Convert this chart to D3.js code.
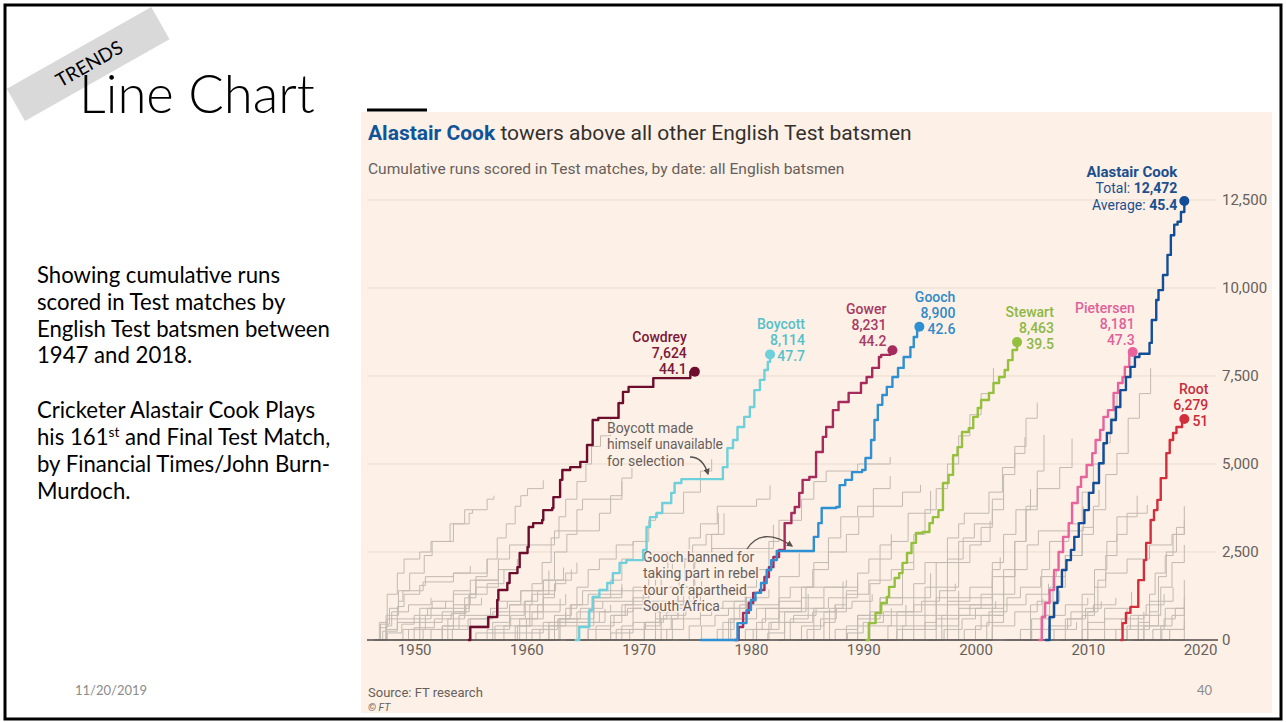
<!DOCTYPE html>
<html>
<head>
<meta charset="utf-8">
<script src="https://cdn.jsdelivr.net/npm/d3@7"></script>
<style>
  body { margin: 0; background: #fff; }
  svg { display: block; }
</style>
</head>
<body>
<svg id="slide" width="1286" height="722"></svg>
<script>
// ---- DATA ----
var xTicks = [1950, 1960, 1970, 1980, 1990, 2000, 2010, 2020];
var yTicks = [0, 2500, 5000, 7500, 10000, 12500];

var starNames = ["Cowdrey", "Boycott", "Gower", "Gooch", "Stewart", "Pietersen", "Root", "Alastair Cook"];
var starTotals = [7624, 8114, 8231, 8900, 8463, 8181, 6279, 12472];
var starAverages = ["44.1", "47.7", "44.2", "42.6", "39.5", "47.3", "51", "45.4"];

// [year, cumulative runs]
var cowdreyRuns = [[1954.8,0],[1955.0,370],[1956.6,650],[1957.4,1140],[1957.5,1420],[1958.3,1620],[1958.5,1900],[1959.2,2070],[1959.4,2470],[1960.1,2640],[1960.2,3210],[1960.6,3320],[1961.4,3410],[1961.5,3690],[1962.3,3750],[1962.4,4060],[1963.0,4550],[1963.2,4830],[1963.9,4910],[1964.8,5060],[1965.4,5540],[1965.9,6250],[1966.4,6310],[1968.2,6730],[1968.6,7050],[1969.1,7190],[1971.3,7440],[1974.6,7624],[1975.0,7624]];
var boycottRuns = [[1964.3,0],[1964.7,370],[1965.6,850],[1965.9,1220],[1966.5,1420],[1967.2,1620],[1967.7,1900],[1968.3,2190],[1968.9,2270],[1970.4,2560],[1970.7,3210],[1971.0,3490],[1971.6,3610],[1972.1,3890],[1972.9,4180],[1973.2,4460],[1973.8,4570],[1977.5,4910],[1977.9,5450],[1978.4,5680],[1978.8,6050],[1979.4,6340],[1979.9,6620],[1980.3,7100],[1980.8,7390],[1981.2,7670],[1981.5,7900],[1981.7,8114]];
var gowerRuns = [[1978.5,0],[1978.9,370],[1979.3,770],[1979.8,1050],[1980.2,1340],[1980.8,1420],[1981.2,1790],[1981.6,2070],[1982.0,2360],[1982.5,2560],[1983.0,3320],[1983.6,3610],[1983.9,3780],[1984.3,4180],[1984.6,4550],[1985.2,4630],[1985.8,5340],[1986.4,5770],[1986.7,6050],[1987.3,6530],[1987.8,6760],[1988.7,7020],[1989.8,7300],[1990.3,7470],[1990.8,7730],[1991.4,8040],[1991.6,8100],[1992.4,8231],[1992.6,8231]];
var goochRuns = [[1975.5,0],[1978.8,480],[1979.6,850],[1980.0,1140],[1980.4,1340],[1980.9,1620],[1981.4,1990],[1981.8,2270],[1982.3,2530],[1985.6,2930],[1986.0,3320],[1986.3,3750],[1987.6,3780],[1987.9,4400],[1988.4,4550],[1989.0,4770],[1989.9,4830],[1990.2,5170],[1990.7,5680],[1991.0,6250],[1991.3,6680],[1991.7,6960],[1992.1,7190],[1992.6,7470],[1993.1,7730],[1993.6,8040],[1994.2,8320],[1994.5,8610],[1994.8,8810],[1995.0,8900]];
var stewartRuns = [[1990.2,0],[1990.5,480],[1991.1,770],[1991.6,1050],[1992.1,1220],[1992.3,1510],[1992.8,1760],[1993.2,1900],[1993.5,2190],[1993.9,2470],[1994.3,2760],[1994.7,3040],[1995.3,3070],[1995.9,3320],[1996.2,3490],[1996.7,3690],[1997.1,4460],[1997.6,4690],[1998.0,5250],[1998.4,5480],[1998.8,5910],[1999.4,6020],[1999.8,6340],[2000.2,6590],[2000.5,6820],[2001.2,7020],[2001.6,7300],[2002.1,7470],[2002.6,7670],[2002.9,7950],[2003.3,8240],[2003.7,8463]];
var pietersenRuns = [[2005.6,0],[2005.9,650],[2006.2,1050],[2006.6,1420],[2007.0,1990],[2007.4,2500],[2007.8,2930],[2008.3,3320],[2008.6,3890],[2009.1,4350],[2009.4,4630],[2009.9,4970],[2010.4,5310],[2010.7,5680],[2011.1,5970],[2011.4,6340],[2011.8,6530],[2012.3,7020],[2012.7,7300],[2013.1,7470],[2013.3,7760],[2013.7,8100],[2014.0,8181]];
var rootRuns = [[2012.9,0],[2013.1,480],[2013.4,770],[2013.8,940],[2014.5,1700],[2015.0,2270],[2015.2,2760],[2015.6,3410],[2015.9,3690],[2016.2,3980],[2016.5,4600],[2017.0,5310],[2017.3,5680],[2017.6,5880],[2017.9,6050],[2018.4,6279],[2018.6,6279]];
var cookRuns = [[2006.2,0],[2006.6,650],[2007.0,1050],[2007.3,1510],[2007.7,1990],[2008.1,2270],[2008.5,2560],[2008.8,2930],[2009.2,3320],[2009.7,3690],[2010.1,4180],[2010.5,4460],[2011.0,5020],[2011.4,5590],[2011.7,5880],[2012.1,6250],[2012.5,6620],[2012.9,7100],[2013.4,7470],[2013.8,7760],[2014.2,8040],[2014.6,8130],[2015.5,8440],[2015.7,9090],[2016.1,9660],[2016.3,9940],[2016.7,10370],[2017.1,10940],[2017.4,11500],[2017.7,11800],[2018.0,11880],[2018.3,12160],[2018.6,12472]];

// all the other English batsmen
var otherRuns = [
  [[1946.5,0],[1947.0,350],[1947.6,600],[1948.5,950],[1949.1,1300],[1950.5,1550],[1951.0,1800],[1953.5,1900],[1956.5,2300]],
  [[1946.5,0],[1947.5,700],[1948.6,1100],[1949.0,1400],[1950.8,1650],[1953.5,1900],[1955.0,2100]],
  [[1946.4,0],[1946.9,500],[1947.6,1300],[1948.5,1900],[1949.1,2300],[1950.5,2500],[1951.5,2800],[1953.2,3300],[1954.5,3700],[1956.5,4000],[1957.1,4100]],
  [[1946.4,0],[1947.0,450],[1947.8,900],[1948.6,1400],[1949.6,1900],[1950.9,2400],[1951.6,2800],[1953.5,3300],[1954.9,3600],[1955.2,3700]],
  [[1951.4,0],[1952.5,400],[1953.5,800],[1954.9,1300],[1955.5,1800],[1956.5,2300],[1957.4,2900],[1958.2,3300],[1959.0,3800],[1959.5,4100],[1960.1,4300],[1961.5,4537]],
  [[1946.5,0],[1947.5,300],[1948.5,600],[1950.5,900],[1951.6,1100],[1953.5,1400],[1955.0,1700],[1957.5,2000],[1959.2,2300]],
  [[1949.5,0],[1950.8,300],[1953.5,900],[1954.9,1300],[1956.5,1600],[1958.0,2000],[1959.2,2290]],
  [[1951.6,0],[1953.0,600],[1954.5,1200],[1955.5,1700],[1957.5,2300],[1958.5,2700],[1962.5,3100],[1966.5,3600],[1967.5,4100],[1968.5,4600],[1969.4,4882]],
  [[1948.0,0],[1949.5,300],[1951.0,700],[1953.5,1000],[1955.0,1401]],
  [[1950.5,0],[1952.5,400],[1955.0,600],[1957.0,800],[1963.0,1172]],
  [[1956.4,0],[1957.0,500],[1958.5,1000],[1959.5,1400],[1961.5,1700],[1963.3,2061]],
  [[1955.5,0],[1959.4,600],[1959.9,1100],[1960.5,1600],[1961.4,2200],[1962.2,2900],[1962.9,3500],[1963.5,4000],[1964.5,4500],[1965.3,5000],[1965.8,5500],[1966.6,5800],[1967.5,6300],[1968.3,6806]],
  [[1958.6,0],[1959.2,400],[1960.3,1000],[1961.5,1700],[1962.5,2500],[1963.6,3000],[1964.5,3700],[1965.0,4000],[1968.5,4502]],
  [[1959.5,0],[1960.0,600],[1961.5,1300],[1962.0,1974]],
  [[1961.9,0],[1962.9,600],[1963.9,1000],[1965.0,1400],[1972.0,1882]],
  [[1960.5,0],[1962.0,400],[1964.5,800],[1966.0,1200],[1968.5,1495]],
  [[1963.5,0],[1965.5,800],[1966.0,1200],[1967.5,1700],[1968.5,2300],[1969.5,2800],[1970.9,3400],[1971.5,3600],[1974.0,4200],[1975.5,4800],[1976.5,5138]],
  [[1966.6,0],[1968.0,300],[1972.9,700],[1973.5,1500],[1974.1,2300],[1974.8,2700],[1976.0,3000],[1977.1,3612]],
  [[1967.6,0],[1968.5,400],[1969.5,900],[1970.9,1400],[1971.5,1800],[1973.0,2300],[1974.5,2900],[1975.5,3300],[1977.0,3800],[1980.5,4000],[1981.7,4389]],
  [[1966.5,0],[1967.5,500],[1968.5,1000],[1969.5,1500],[1970.9,2000],[1972.6,2484]],
  [[1972.5,0],[1973.0,600],[1974.0,1500],[1975.0,2300],[1976.5,3000],[1977.6,3599]],
  [[1968.5,0],[1970.5,500],[1971.9,1000],[1973.5,1500],[1974.9,2200],[1976.5,2600],[1982.0,3272]],
  [[1958.5,0],[1962.0,500],[1966.5,800],[1969.5,1200],[1970.9,1500],[1973.6,1836]],
  [[1969.5,0],[1972.0,600],[1973.5,1000],[1974.9,1500],[1975.6,1667]],
  [[1970.9,0],[1971.5,600],[1972.5,900],[1974.9,1298]],
  [[1976.4,0],[1977.5,500],[1978.5,900],[1979.5,1200],[1981.6,1442]],
  [[1977.0,0],[1978.0,600],[1979.0,1000],[1982.5,1800],[1984.3,2470]],
  [[1977.5,0],[1978.2,600],[1979.6,1500],[1980.5,2000],[1981.6,2800],[1982.5,3400],[1984.5,4000],[1985.6,4500],[1986.7,4800],[1989.5,5000],[1992.4,5200]],
  [[1978.1,0],[1980.5,300],[1982.5,800],[1984.9,1500],[1985.6,2200],[1986.9,2900],[1988.0,3500],[1989.5,3800],[1993.5,4200],[1995.1,4409]],
  [[1982.5,0],[1983.0,800],[1984.5,1500],[1985.5,2000],[1986.9,2500],[1988.5,3000],[1989.6,3500],[1990.9,4300],[1992.4,4656]],
  [[1980.5,0],[1981.6,500],[1982.5,1200],[1983.5,1500],[1989.5,1755]],
  [[1976.5,0],[1980.5,500],[1981.3,900],[1986.5,1184]],
  [[1984.5,0],[1987.0,900],[1988.2,1661]],
  [[1984.5,0],[1985.6,900],[1986.9,1200],[1989.5,1601]],
  [[1988.5,0],[1989.5,700],[1990.6,1600],[1991.5,2300],[1992.5,2800],[1994.0,3600],[1996.0,4236]],
  [[1989.6,0],[1990.6,800],[1991.5,1200],[1993.5,2200],[1994.5,3000],[1995.5,3700],[1996.5,4300],[1997.5,5000],[1998.5,5800],[1999.5,6400],[2000.5,7000],[2001.6,7728]],
  [[1991.5,0],[1993.0,800],[1994.5,1600],[1995.5,2200],[1998.5,2800],[2001.3,3383]],
  [[1993.5,0],[1994.5,700],[1995.5,1500],[1996.5,2200],[1997.5,2900],[1998.5,3300],[1999.0,3600],[2001.2,4200],[2002.4,4900],[2003.5,5500],[2004.5,6300],[2005.5,6744]],
  [[1990.2,0],[1993.5,400],[1996.5,1500],[1997.5,2300],[1998.9,2900],[1999.9,3300],[2001.5,4000],[2002.5,4700],[2003.5,5300],[2004.4,5764]],
  [[1991.5,0],[1993.0,300],[1996.5,600],[1998.5,1200],[2001.5,2000],[2002.2,2350]],
  [[1994.5,0],[1997.5,1000],[2002.5,1800]],
  [[1995.5,0],[1997.0,700],[2001.5,1643]],
  [[1997.5,0],[1998.5,700],[1999.5,1000],[2001.5,2200],[2002.5,3000],[2003.6,3700],[2004.9,4288]],
  [[2000.5,0],[2001.5,900],[2002.5,1800],[2003.5,2800],[2004.5,3800],[2005.5,4800],[2006.1,5825]],
  [[1999.9,0],[2001.5,700],[2002.5,2000],[2003.5,2800],[2004.5,3700],[2005.5,4300],[2007.5,4900],[2008.6,5719]],
  [[1998.5,0],[2001.0,500],[2002.5,1300],[2003.5,2000],[2004.6,2700],[2005.6,3100],[2009.6,3795]],
  [[2003.9,0],[2005.9,600],[2006.9,1800],[2008.0,2400],[2009.5,3200],[2010.5,3800],[2011.0,4259]],
  [[2004.4,0],[2004.9,1000],[2005.9,2000],[2006.6,2800],[2008.3,3300],[2009.5,4200],[2010.5,5000],[2011.5,5600],[2012.0,6300],[2012.6,7037]],
  [[2004.6,0],[2005.9,700],[2006.6,1500],[2008.0,2400],[2009.5,3000],[2010.5,3700],[2011.6,4700],[2012.6,5300],[2013.6,6300],[2014.6,7000],[2015.6,7727]],
  [[2007.4,0],[2008.0,600],[2009.5,1300],[2010.6,2000],[2011.7,2800],[2012.6,3500],[2014.4,4099]],
  [[2009.6,0],[2010.0,800],[2010.9,1700],[2011.6,2400],[2012.6,3000],[2013.5,3600],[2015.3,3835]],
  [[2007.9,0],[2009.5,700],[2010.6,1500],[2011.6,1900],[2013.5,2300],[2015.5,2700],[2017.5,3000],[2018.6,3200]],
  [[2012.4,0],[2013.5,300],[2015.5,800],[2016.3,1800],[2017.0,2500],[2017.9,3200],[2018.6,3800]],
  [[2013.9,0],[2014.5,500],[2015.5,1300],[2016.0,1900],[2016.9,2400],[2017.6,3000],[2018.6,3400]],
  [[2014.4,0],[2015.0,700],[2016.5,1500],[2017.5,2200],[2018.6,2700]],
  [[2008.9,0],[2010.0,500],[2011.5,900],[2013.9,1370]],
  [[2014.5,0],[2015.0,400],[2016.9,900],[2018.6,1700]],
  [[2014.0,0],[2014.5,700],[2015.5,1100],[2017.6,1498]],
  [[2012.9,0],[2013.5,400],[2016.3,775]],
  [[2016.0,0],[2016.6,300],[2018.6,1000]],
  [[2004.2,0],[2005.0,600],[2006.0,1172]],
  [[2003.0,0],[2005.0,300],[2009.0,500]],
  [[1986.5,0],[1988.5,400],[1990.6,700],[1992.5,900]],
  [[1988.6,0],[1989.5,600],[1991.5,1200],[1996.0,1897]],
  [[1982.5,0],[1983.5,600],[1985.1,1307]],
  [[1949.5,0],[1955.5,200],[1961.5,500],[1967.0,887]],
  [[1955.5,0],[1963.0,600],[1966.0,1100],[1975.0,1449]],
  [[1952.5,0],[1958.0,400],[1963.5,800]],
  [[1946.4,0],[1947.2,250],[1948.5,500],[1950.5,650]],
  [[1946.9,0],[1947.5,400],[1948.0,800],[1949.5,1000],[1951.5,1200]],
  [[1947.5,0],[1949.0,300],[1950.5,500],[1952.5,800],[1954.5,1000]],
  [[1948.5,0],[1950.5,600],[1951.5,900],[1953.5,1300],[1955.5,1500],[1957.5,1700]],
  [[1950.5,0],[1951.5,300],[1954.0,700],[1957.5,1100],[1959.5,1400],[1961.5,1500]],
  [[1953.5,0],[1954.9,400],[1956.5,700],[1958.5,1000],[1960.5,1300],[1962.5,1540]],
  [[1954.5,0],[1956.5,300],[1958.5,600],[1961.0,1000],[1963.5,1300]],
  [[1957.5,0],[1959.0,400],[1960.5,800],[1961.5,1200],[1962.5,1600],[1963.5,1900],[1964.5,2200]],
  [[1959.5,0],[1960.5,300],[1962.5,700],[1964.0,1000],[1965.5,1300],[1968.5,1600]],
  [[1961.5,0],[1962.5,500],[1963.5,900],[1964.5,1500],[1965.5,2000],[1966.5,2300],[1968.0,2700],[1969.5,2800]],
  [[1963.5,0],[1964.5,400],[1966.0,800],[1967.5,1000]],
  [[1964.5,0],[1965.5,300],[1967.5,700],[1969.0,900],[1971.5,1100]],
  [[1966.5,0],[1967.5,200],[1969.5,500],[1971.5,800],[1973.5,1000],[1975.5,1300]],
  [[1969.5,0],[1970.5,400],[1971.9,800],[1973.5,1100],[1974.5,1300],[1976.5,1500]],
  [[1971.5,0],[1972.5,300],[1974.0,600],[1975.5,900],[1977.5,1100],[1979.5,1300]],
  [[1973.5,0],[1974.5,400],[1975.5,700],[1976.5,900],[1978.5,1100],[1980.5,1200]],
  [[1975.5,0],[1977.0,300],[1978.5,600],[1980.5,900],[1982.5,1100],[1984.5,1300]],
  [[1978.5,0],[1979.5,300],[1981.0,600],[1982.5,900],[1984.5,1200],[1986.5,1500],[1988.5,1700]],
  [[1980.5,0],[1981.5,200],[1983.0,500],[1985.5,800],[1987.5,1000]],
  [[1983.5,0],[1984.5,400],[1986.5,800],[1988.5,1300],[1990.5,1700],[1992.5,2000],[1994.5,2200]],
  [[1986.5,0],[1987.5,300],[1989.5,700],[1991.5,1000],[1993.5,1200]],
  [[1989.5,0],[1990.5,400],[1992.5,700],[1994.5,1000],[1996.5,1200],[1998.5,1400]],
  [[1992.5,0],[1993.5,300],[1995.5,700],[1997.5,1100],[1999.5,1500],[2001.5,1800],[2003.5,2000]],
  [[1995.5,0],[1996.5,400],[1998.5,900],[2000.5,1300],[2002.5,1600]],
  [[1997.5,0],[1999.0,300],[2000.5,700],[2002.5,1000],[2004.5,1300],[2006.5,1600]],
  [[2000.5,0],[2001.5,400],[2003.5,800],[2005.5,1100],[2007.5,1400]],
  [[2002.5,0],[2004.0,300],[2006.0,700],[2008.0,1000],[2010.0,1200]],
  [[2005.5,0],[2006.5,400],[2008.5,800],[2010.5,1000],[2012.5,1200]],
  [[2008.5,0],[2009.5,300],[2011.5,600],[2013.5,900]],
  [[2010.5,0],[2011.5,300],[2013.0,600],[2015.0,800]],
  [[2015.5,0],[2016.5,400],[2017.5,700],[2018.6,900]],
  [[2016.5,0],[2017.3,300],[2018.6,600]],
  [[2017.5,0],[2018.6,400]],
  [[1994.5,0],[1995.5,500],[1996.5,1000],[1997.5,1500],[1998.5,2200],[1999.5,2700],[2000.5,3200],[2001.5,3700],[2002.5,4100]],
  [[1985.5,0],[1986.5,500],[1987.5,1000],[1988.5,1400],[1989.5,1900],[1990.5,2300],[1991.5,2700],[1992.5,3000]],
  [[1947.0,0],[1947.6,200],[1948.9,450],[1950.0,700],[1951.2,900],[1952.8,1100]],
  [[1949.0,0],[1950.0,350],[1951.8,600],[1953.3,750],[1954.6,1000],[1956.0,1200]],
  [[1952.0,0],[1953.4,300],[1954.8,600],[1956.8,900],[1958.3,1100]],
  [[1956.0,0],[1957.2,400],[1958.6,700],[1959.8,1100],[1961.0,1400],[1962.6,1700],[1964.0,2000]],
  [[1960.0,0],[1961.2,300],[1962.8,600],[1964.8,900],[1966.8,1100]],
  [[1965.0,0],[1966.2,400],[1967.8,700],[1968.8,1000],[1970.4,1300],[1972.4,1500]],
  [[1968.0,0],[1969.2,300],[1970.6,500],[1972.2,700],[1974.2,900]],
  [[1974.5,0],[1975.6,400],[1976.8,700],[1978.0,900],[1979.8,1000]],
  [[1979.0,0],[1980.2,300],[1981.8,500],[1983.8,700],[1985.8,900]],
  [[1984.0,0],[1985.0,300],[1986.2,600],[1987.6,900],[1989.0,1100],[1990.8,1300]],
  [[1987.5,0],[1988.6,200],[1990.0,500],[1991.8,800],[1993.8,1000]],
  [[1991.0,0],[1992.2,400],[1993.8,800],[1995.2,1100],[1996.8,1400],[1998.2,1600]],
  [[1996.0,0],[1997.2,300],[1998.8,600],[2000.0,900],[2001.8,1100]],
  [[1999.0,0],[2000.0,400],[2001.2,800],[2002.8,1200],[2004.0,1500],[2005.8,1800],[2007.2,2000]],
  [[2006.0,0],[2007.0,300],[2008.2,600],[2009.8,900],[2011.2,1100]],
  [[2011.5,0],[2012.5,300],[2013.8,700],[2015.2,1000],[2016.8,1300]],
  [[2015.0,0],[2015.8,300],[2016.8,600],[2017.8,900],[2018.6,1200]]
];

// ---- STYLES / LAYOUT ----
var starColors = ["#6d0c2c", "#6dd0da", "#a62a5b", "#2e8fd3", "#94c03e", "#e8629c", "#d22e3c", "#114e97"];
var labelColors = ["#7b1838", "#56c0c9", "#a93a63", "#2f8ac9", "#8db843", "#e0609a", "#c92c3b", "#1b4f8e"];
// label right edge offset from the end dot, and baseline of first line
var labelDx = [-8, 35, -6, 36, 37, 2, 24, -7];
var labelDy = [-30, -25, -36, -25, -25, -39, -25, -24];

var starRuns = [cowdreyRuns, boycottRuns, gowerRuns, goochRuns, stewartRuns, pietersenRuns, rootRuns, cookRuns];

var ftFont = "Roboto, 'Open Sans', sans-serif";
var slideFont = "Lato, Carlito, 'Open Sans', sans-serif";
var fmt = d3.format(",");

// scale a text's font-size so it spans the given width
function fitWidth(sel, w){
  var fs = parseFloat(sel.attr("font-size"));
  var bw = sel.node().getBBox().width;
  var nfs = fs * w / bw;
  sel.attr("font-size", nfs + "px");
  return nfs;
}

var svg = d3.select("#slide");

// --- SLIDE FRAME ---
svg.append("rect")
  .attr("x", 0).attr("y", 0).attr("width", 1286).attr("height", 722)
  .attr("fill", "#fff");

// chart panel
svg.append("rect")
  .attr("x", 361).attr("y", 112).attr("width", 911).attr("height", 601)
  .attr("fill", "#fdf0e6");

// TRENDS ribbon
var ribbon = svg.append("g")
  .attr("transform", "translate(89,63.5) rotate(-29.5)");
ribbon.append("rect")
  .attr("x", -84).attr("y", -18.5).attr("width", 166).attr("height", 37)
  .attr("fill", "#d9d9d9");
ribbon.append("text")
  .attr("x", 0).attr("y", 7)
  .attr("text-anchor", "middle")
  .attr("font-family", slideFont)
  .attr("font-size", "19px")
  .attr("fill", "#000")
  .text("TRENDS");

var bigTitle = svg.append("text")
  .attr("x", 79).attr("y", 113)
  .attr("font-family", slideFont)
  .attr("font-weight", 300)
  .attr("font-size", "51px")
  .attr("fill", "#000")
  .text("Line Chart");
fitWidth(bigTitle, 236);

svg.append("line")
  .attr("x1", 367).attr("x2", 427).attr("y1", 110).attr("y2", 110)
  .attr("stroke", "#000").attr("stroke-width", 3);

// left paragraph
var paraLines = [
  ["Showing cumulative runs", 283],
  ["scored in Test matches by", 310],
  ["English Test batsmen between", 337],
  ["1947 and 2018.", 363],
  ["Cricketer Alastair Cook Plays", 418],
  ["his 161|st| and Final Test Match,", 445],
  ["by Financial Times/John Burn-", 472],
  ["Murdoch.", 499]
];
var probe = svg.append("text")
  .attr("font-family", slideFont).attr("font-size", "20px")
  .text(paraLines[2][0]);
var paraSize = fitWidth(probe, 293);
probe.remove();
paraLines.forEach(function(l){
  var t = svg.append("text")
    .attr("x", 37).attr("y", l[1])
    .attr("font-family", slideFont)
    .attr("font-size", paraSize + "px")
    .attr("fill", "#000");
  var parts = l[0].split("|");
  if (parts.length == 1) { t.text(l[0]); return; }
  t.append("tspan").text(parts[0]);
  t.append("tspan").attr("font-size", (paraSize * 0.62) + "px").attr("dy", -8).text(parts[1]);
  t.append("tspan").attr("dy", 8).text(parts[2]);
});

svg.append("text")
  .attr("x", 75).attr("y", 695)
  .attr("font-family", slideFont).attr("font-size", "13px")
  .attr("fill", "#8b8b8b")
  .text("11/20/2019");
svg.append("text")
  .attr("x", 1212).attr("y", 695)
  .attr("text-anchor", "end")
  .attr("font-family", slideFont).attr("font-size", "13px")
  .attr("fill", "#8b8b8b")
  .text("40");

// --- CHART ---
var xScale = d3.scaleLinear().domain([1945.8, 2021.6]).range([367, 1218]);
var yScale = d3.scaleLinear().domain([0, 12500]).range([640, 200]);

// title + subtitle
var title = svg.append("text")
  .attr("x", 368).attr("y", 140)
  .attr("font-family", ftFont)
  .attr("font-size", "19.5px");
title.append("tspan").attr("font-weight", "bold").attr("fill", "#0f5499").text("Alastair Cook");
title.append("tspan").attr("fill", "#33302e").text(" towers above all other English Test batsmen");
fitWidth(title, 544);

var subtitle = svg.append("text")
  .attr("x", 368).attr("y", 174)
  .attr("font-family", ftFont).attr("font-size", "14.5px")
  .attr("fill", "#66605c")
  .text("Cumulative runs scored in Test matches, by date: all English batsmen");
fitWidth(subtitle, 477);

// gridlines
svg.append("g").selectAll("line")
  .data(yTicks.filter(function(d){ return d > 0; }))
  .enter().append("line")
  .attr("x1", 367).attr("x2", 1216)
  .attr("y1", function(d){ return yScale(d); })
  .attr("y2", function(d){ return yScale(d); })
  .attr("stroke", "#eadbcd").attr("stroke-width", 1);

// y axis labels on the right
var yAxis = svg.append("g")
  .attr("transform", "translate(1218,0)")
  .call(d3.axisRight(yScale).tickValues(yTicks).tickSize(0).tickPadding(4).tickFormat(d3.format(",")));
yAxis.select(".domain").remove();
yAxis.selectAll("text")
  .attr("font-family", ftFont).attr("font-size", "15px")
  .attr("fill", "#66605c");

// x axis labels
var xAxis = svg.append("g")
  .attr("transform", "translate(0,640)")
  .call(d3.axisBottom(xScale).tickValues(xTicks).tickSize(0).tickPadding(4).tickFormat(d3.format("d")));
xAxis.select(".domain").remove();
xAxis.selectAll("text")
  .attr("font-family", ftFont).attr("font-size", "15px")
  .attr("fill", "#66605c");

var stepLine = d3.line()
  .x(function(d){ return xScale(d[0]); })
  .y(function(d){ return yScale(d[1]); })
  .curve(d3.curveStepAfter);

// grey lines
svg.append("g").selectAll("path")
  .data(otherRuns)
  .enter().append("path")
  .attr("d", stepLine)
  .attr("fill", "none")
  .attr("stroke", "#c2bab3")
  .attr("stroke-width", 1);

// zero line
svg.append("line")
  .attr("x1", 367).attr("x2", 1218)
  .attr("y1", yScale(0)).attr("y2", yScale(0))
  .attr("stroke", "#4f4a47").attr("stroke-width", 1.5);

// annotations: [text, width of that line in the reference]
function annotation(lines, x, y0){
  var t = svg.append("text")
    .attr("font-family", ftFont).attr("font-size", "14px")
    .attr("fill", "#66605c")
    .attr("stroke", "#fdf0e6").attr("stroke-width", 3)
    .attr("paint-order", "stroke");
  lines.forEach(function(s, i){
    var sp = t.append("tspan").attr("x", x).attr("y", y0 + i * 16.4).text(s[0]);
    if (s[1]) sp.attr("textLength", s[1]).attr("lengthAdjust", "spacing");
  });
}
annotation([["Boycott made"], ["himself unavailable", 116], ["for selection"]], 607, 433);
annotation([["Gooch banned for"], ["taking part in rebel"], ["tour of apartheid"], ["South Africa"]], 643, 562);

svg.append("defs").append("marker")
  .attr("id", "arrow").attr("viewBox", "0 0 10 10")
  .attr("refX", 8).attr("refY", 5)
  .attr("markerWidth", 5).attr("markerHeight", 5)
  .attr("orient", "auto")
  .append("path").attr("d", "M0,0L10,5L0,10z").attr("fill", "#55504d");

svg.append("path")
  .attr("d", "M690,457 Q703,457 708,474")
  .attr("fill", "none").attr("stroke", "#55504d").attr("stroke-width", 1.3)
  .attr("marker-end", "url(#arrow)");
svg.append("path")
  .attr("d", "M747,549 Q762,526 792,546")
  .attr("fill", "none").attr("stroke", "#55504d").attr("stroke-width", 1.3)
  .attr("marker-end", "url(#arrow)");

// highlighted players
starRuns.forEach(function(runs, i){
  svg.append("path")
    .datum(runs)
    .attr("d", stepLine)
    .attr("fill", "none")
    .attr("stroke", starColors[i])
    .attr("stroke-width", 2.4)
    .attr("stroke-linejoin", "round");
});

starRuns.forEach(function(runs, i){
  var last = runs[runs.length - 1];
  var cx = xScale(last[0]), cy = yScale(starTotals[i]);
  svg.append("circle")
    .attr("cx", cx).attr("cy", cy).attr("r", 5)
    .attr("fill", starColors[i]);

  var lx = cx + labelDx[i], ly = cy + labelDy[i];
  var g = svg.append("text")
    .attr("font-family", ftFont).attr("font-size", "14px")
    .attr("font-weight", 500)
    .attr("fill", labelColors[i])
    .attr("text-anchor", "end");
  if (starNames[i] == "Alastair Cook") {
    g.append("tspan").attr("x", lx).attr("y", ly)
      .attr("font-weight", "bold").attr("font-size", "15px").text(starNames[i]);
    g.append("tspan").attr("x", lx).attr("y", ly + 16.5).attr("font-weight", 400).text("Total: ")
      .append("tspan").attr("font-weight", "bold").text(fmt(starTotals[i]));
    g.append("tspan").attr("x", lx).attr("y", ly + 33).attr("font-weight", 400).text("Average: ")
      .append("tspan").attr("font-weight", "bold").text(starAverages[i]);
  } else {
    g.append("tspan").attr("x", lx).attr("y", ly).text(starNames[i]);
    g.append("tspan").attr("x", lx).attr("y", ly + 16).text(fmt(starTotals[i]));
    g.append("tspan").attr("x", lx).attr("y", ly + 32).text(starAverages[i]);
  }
});

// source
svg.append("text")
  .attr("x", 368).attr("y", 697)
  .attr("font-family", ftFont).attr("font-size", "13px")
  .attr("fill", "#66605c")
  .text("Source: FT research");
svg.append("text")
  .attr("x", 368).attr("y", 711)
  .attr("font-family", ftFont).attr("font-size", "10.5px")
  .attr("font-style", "italic")
  .attr("fill", "#66605c")
  .text("\u00A9 FT");

// slide border
svg.append("rect")
  .attr("x", 5).attr("y", 5).attr("width", 1276).attr("height", 714)
  .attr("fill", "none").attr("stroke", "#000").attr("stroke-width", 3);
</script>
</body>
</html>
